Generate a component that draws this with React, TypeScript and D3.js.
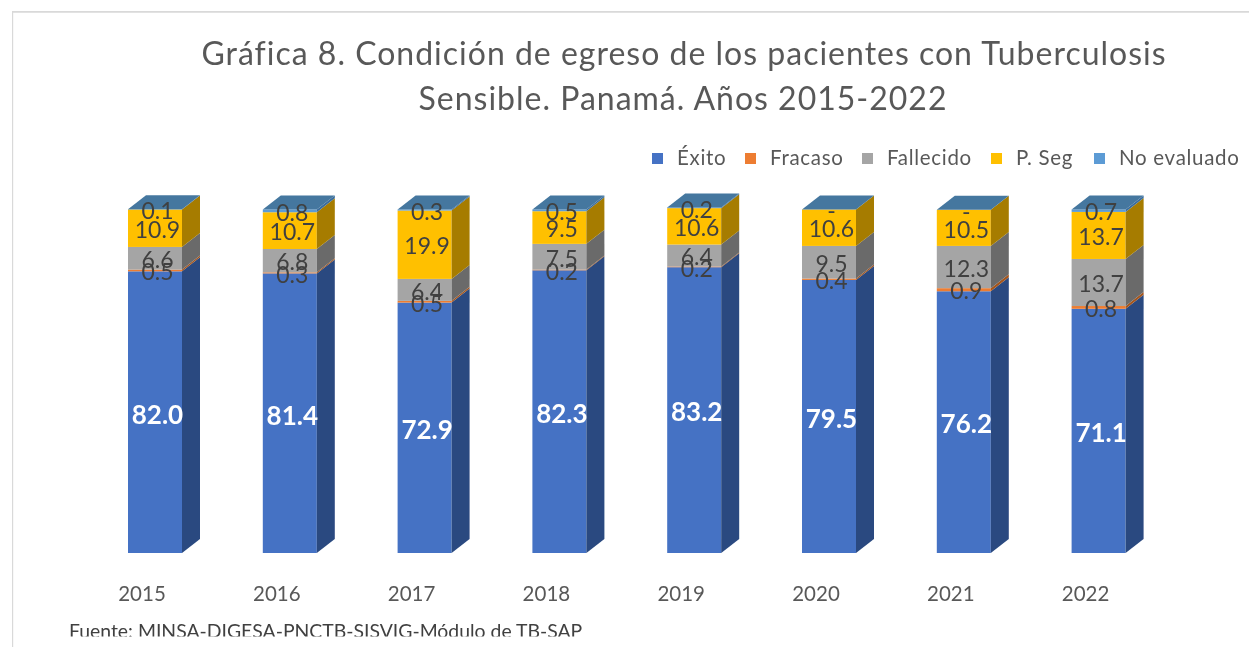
import React from "react";
import * as d3 from "d3";

const years = ["2015", "2016", "2017", "2018", "2019", "2020", "2021", "2022"];
const exito = [82.0, 81.4, 72.9, 82.3, 83.2, 79.5, 76.2, 71.1];
const fracaso = [0.5, 0.3, 0.5, 0.2, 0.2, 0.4, 0.9, 0.8];
const fallecido = [6.6, 6.8, 6.4, 7.5, 6.4, 9.5, 12.3, 13.7];
const pSeg = [10.9, 10.7, 19.9, 9.5, 10.6, 10.6, 10.5, 13.7];
const noEvaluado = [0.1, 0.8, 0.3, 0.5, 0.2, 0, 0, 0.7];
const seriesNames = ["Éxito", "Fracaso", "Fallecido", "P. Seg", "No evaluado"];
const seriesValues = [exito, fracaso, fallecido, pSeg, noEvaluado];
const frontColors = ["#4472c4", "#ed7d31", "#a5a5a5", "#ffc000", "#5b9bd5"];
const sideColors = ["#2a4a80", "#a4561f", "#6a6a6a", "#a67c00", "#3b6d9c"];
const topColor = "#44779f";

const W = 1249;
const H = 647;
const DX = 18;
const DY = 14;
const FONT = "Lato, Carlito, sans-serif";

export default function App() {
  const barW = 54;
  const xPos = d3.scaleLinear().domain([0, years.length - 1]).range([128, 1071.6]);
  const y = d3.scaleLinear().domain([0, 100]).range([553, 209.5]);
  const legendX = [652, 745, 862, 991, 1094];

  return (
    <svg width={W} height={H} viewBox={`0 0 ${W} ${H}`} style={{ position: "fixed", left: 0, top: 0, background: "#fff" }}>
      <defs>
        <filter id="soft" x="0" y="0" width="100%" height="100%">
          <feGaussianBlur stdDeviation="0.35" />
        </filter>
        <clipPath id="srcClip">
          <rect x={0} y={0} width={W} height={636.5} />
        </clipPath>
      </defs>
      <g filter="url(#soft)">
        <path d={`M12,${H}V11.5H${W}`} fill="none" stroke="#d9d9d9" strokeWidth={2.4} />
        <text x={684} y={65} textAnchor="middle" fontFamily={FONT} fontSize={32} fill="#595959" letterSpacing={1}>
          Gráfica 8. Condición de egreso de los pacientes con Tuberculosis
        </text>
        <text x={683} y={110} textAnchor="middle" fontFamily={FONT} fontSize={32} fill="#595959" letterSpacing={1}>
          Sensible. Panamá. Años 2015-2022
        </text>

        {seriesNames.map((n, i) => (
          <g key={n}>
            <rect x={legendX[i]} y={153} width={11} height={11} fill={frontColors[i]} />
            <text x={legendX[i] + 25} y={165} fontFamily={FONT} fontSize={20.5} fill="#595959" letterSpacing={0.7}>
              {n}
            </text>
          </g>
        ))}

        {years.map((yr, c) => {
          const x0 = xPos(c);
          let cum = 0;
          const segs = seriesValues.map((s, k) => {
            const a = cum;
            cum += s[c];
            return { k, v: s[c], y0: y(a), y1: y(cum) };
          });
          const topY = segs[4].y1;
          return (
            <g key={yr}>
              {segs.map((s) => (
                <g key={s.k}>
                  <rect x={x0} y={s.y1} width={barW} height={Math.max(0, s.y0 - s.y1)} fill={frontColors[s.k]} />
                  <path
                    d={`M${x0 + barW},${s.y0}L${x0 + barW + DX},${s.y0 - DY}L${x0 + barW + DX},${s.y1 - DY}L${x0 + barW},${s.y1}Z`}
                    fill={sideColors[s.k]}
                  />
                </g>
              ))}
              <path
                d={`M${x0},${topY}L${x0 + DX},${topY - DY}L${x0 + barW + DX},${topY - DY}L${x0 + barW},${topY}Z`}
                fill={topColor}
              />
              {segs.map((s) => {
                const cy = (s.y0 + s.y1) / 2;
                const isMain = s.k === 0;
                return (
                  <text
                    key={s.k}
                    x={x0 + barW / 2 + 2.5}
                    y={cy + (isMain ? 2 : 1.5)}
                    dy="0.36em"
                    textAnchor="middle"
                    fontFamily={FONT}
                    fontSize={isMain ? 26 : 23}
                    fontWeight={isMain ? 700 : 400}
                    fill={isMain ? "#ffffff" : "#404040"}
                  >
                    {s.v === 0 ? "-" : s.v.toFixed(1)}
                  </text>
                );
              })}
              <text x={x0 + 14} y={601} textAnchor="middle" fontFamily={FONT} fontSize={20.5} fill="#595959">
                {yr}
              </text>
            </g>
          );
        })}

        <g clipPath="url(#srcClip)">
          <text x={69} y={638} fontFamily={FONT} fontSize={19.4} fill="#404040">
            Fuente: MINSA-DIGESA-PNCTB-SISVIG-Módulo de TB-SAP
          </text>
        </g>
      </g>
    </svg>
  );
}
